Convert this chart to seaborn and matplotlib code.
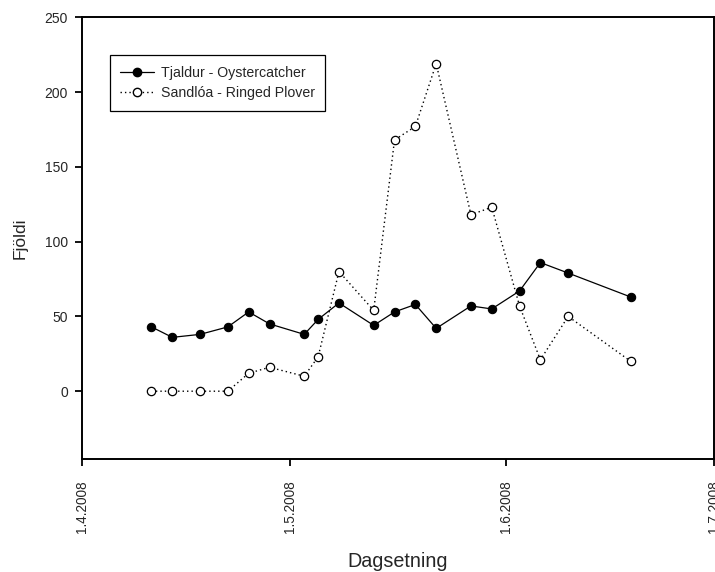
import matplotlib
matplotlib.use("Agg")
import matplotlib.pyplot as plt
import matplotlib.dates as mdates
from matplotlib.ticker import FuncFormatter, FixedLocator
from matplotlib.lines import Line2D
import pandas as pd
import seaborn as sns

# Survey dates (2008) and counts per species
dates = [
    "2008-04-11", "2008-04-14", "2008-04-18", "2008-04-22", "2008-04-25",
    "2008-04-28", "2008-05-03", "2008-05-05", "2008-05-08", "2008-05-13",
    "2008-05-16", "2008-05-19", "2008-05-22", "2008-05-27", "2008-05-30",
    "2008-06-03", "2008-06-06", "2008-06-10", "2008-06-19",
]
oystercatcher = [43, 36, 38, 43, 53, 45, 38, 48, 59, 44, 53, 58, 42, 57, 55, 67, 86, 79, 63]
ringed_plover = [0, 0, 0, 0, 12, 16, 10, 23, 80, 54, 168, 177, 219, 118, 123, 57, 21, 50, 20]

series_labels = ["Tjaldur - Oystercatcher", "Sandlóa - Ringed Plover"]
x_ticks = ["2008-04-01", "2008-05-01", "2008-06-01", "2008-07-01"]
y_ticks = [0, 50, 100, 150, 200, 250]

sns.set_theme(style="white")
plt.rcParams["font.family"] = ["Liberation Sans", "DejaVu Sans"]

df = pd.DataFrame({
    "date": pd.to_datetime(dates),
    "oyster": oystercatcher,
    "plover": ringed_plover,
})

fig = plt.figure(figsize=(7.15, 5.72), dpi=100)
ax = fig.add_axes([0.1147, 0.1984, 0.8839, 0.7714])

sns.lineplot(data=df, x="date", y="oyster", ax=ax, color="black",
             linewidth=0.9, marker="o", markersize=6.0,
             markerfacecolor="black", markeredgecolor="black",
             markeredgewidth=0.8)
sns.lineplot(data=df, x="date", y="plover", ax=ax, color="black",
             linewidth=1.0, linestyle=(0, (1, 2.2)), marker="o",
             markersize=6.0, markerfacecolor="white",
             markeredgecolor="black", markeredgewidth=0.9)

ax.set_xlim(pd.Timestamp(x_ticks[0]), pd.Timestamp(x_ticks[-1]))
ax.set_ylim(-45, 250)
ax.xaxis.set_major_locator(FixedLocator(mdates.date2num(pd.to_datetime(x_ticks))))
ax.xaxis.set_major_formatter(FuncFormatter(
    lambda v, pos: (lambda d: f"{d.day}.{d.month}.{d.year}")(mdates.num2date(v))))
ax.set_yticks(y_ticks)

for s in ax.spines.values():
    s.set_visible(True)
    s.set_color("black")
    s.set_linewidth(1.4)

ax.tick_params(axis="x", which="major", direction="out", length=5, width=1.3,
               color="black", labelsize=9.8, pad=11, labelrotation=90,
               bottom=True, top=False)
ax.tick_params(axis="y", which="major", direction="out", length=5, width=1.3,
               color="black", labelsize=10, pad=5, left=True, right=False)
for lab in ax.get_xticklabels():
    lab.set_rotation(90)
    lab.set_va("top")
    lab.set_ha("center")

ax.set_xlabel("Dagsetning", fontsize=14.2)
ax.set_ylabel("Fjöldi", fontsize=12.5)
ax.xaxis.set_label_coords(0.5, -0.213)
ax.yaxis.set_label_coords(-0.086, 0.5)

handles = [
    Line2D([], [], color="black", linewidth=0.9, marker="o", markersize=6.0,
           markerfacecolor="black", markeredgecolor="black"),
    Line2D([], [], color="black", linewidth=1.0, linestyle=(0, (1, 2.2)),
           marker="o", markersize=6.0, markerfacecolor="white",
           markeredgecolor="black"),
]
leg = ax.legend(handles, series_labels, loc="upper left",
                bbox_to_anchor=(0.044, 0.914), borderaxespad=0,
                fontsize=10.2, frameon=True, fancybox=False, framealpha=1,
                edgecolor="black", handlelength=2.4, handletextpad=0.45,
                labelspacing=0.45, borderpad=0.75)
leg.get_frame().set_linewidth(0.9)

fig.savefig("out.png", dpi=100)
